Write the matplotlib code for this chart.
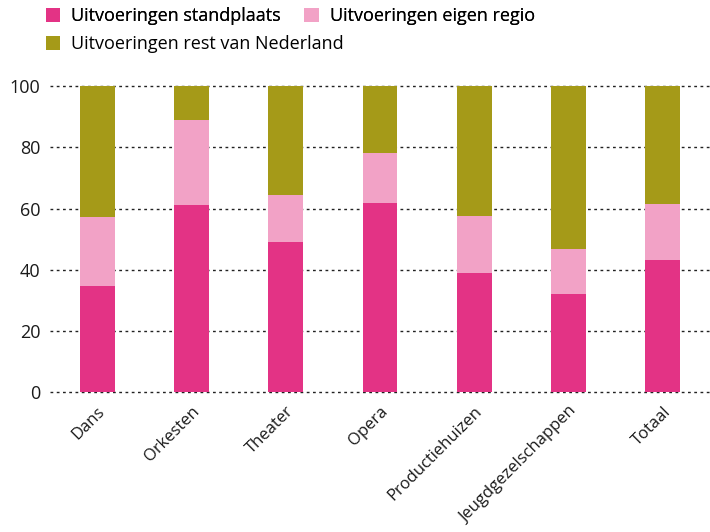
import matplotlib
matplotlib.use("Agg")
import matplotlib.pyplot as plt
import numpy as np
from matplotlib.patches import Patch

plt.rcParams['font.family'] = ['Open Sans', 'DejaVu Sans']

categories = ["Dans", "Orkesten", "Theater", "Opera", "Productiehuizen", "Jeugdgezelschappen", "Totaal"]
standplaats = [34.8, 61.2, 49.1, 61.8, 39.0, 32.1, 43.2]
eigen_regio = [22.4, 27.7, 15.3, 16.3, 18.6, 14.7, 18.2]
rest_nl = [42.8, 11.1, 35.6, 21.9, 42.4, 53.2, 38.6]

series_labels = ["Uitvoeringen standplaats", "Uitvoeringen eigen regio", "Uitvoeringen rest van Nederland"]
colors = ["#E33385", "#F2A2C6", "#A59A18"]

fig = plt.figure(figsize=(7.1, 5.32), dpi=100)
ax = fig.add_axes([50/710, 1-392.3/532, 660/710, (392.3-86)/532])

x = np.arange(len(categories))
w = 0.37
b1 = np.array(standplaats)
b2 = b1 + np.array(eigen_regio)
ax.bar(x, standplaats, w, color=colors[0], zorder=3)
ax.bar(x, eigen_regio, w, bottom=b1, color=colors[1], zorder=3)
ax.bar(x, rest_nl, w, bottom=b2, color=colors[2], zorder=3)

ax.set_xlim(-0.5, 6.5)
ax.set_ylim(0, 100)
ax.set_yticks([0, 20, 40, 60, 80, 100])
for yv in [0, 20, 40, 60, 80, 100]:
    ax.axhline(yv, color="#222222", lw=1.0, ls=(0, (2, 2.5)), zorder=1, clip_on=False)
for s in ax.spines.values():
    s.set_visible(False)
ax.tick_params(axis='y', length=0, labelsize=13, colors="#1a1a1a", pad=7)
ax.set_xticks(x)
ax.set_xticklabels(categories, rotation=45, ha='right', rotation_mode='anchor')
ax.tick_params(axis='x', length=0, labelsize=12, colors="#1a1a1a", pad=8)

handles = [Patch(facecolor=c, edgecolor='none') for c in colors]
common = dict(loc='upper left', frameon=False, fontsize=13, handlelength=0.8, handleheight=0.8,
              handletextpad=0.6, columnspacing=1.3, borderaxespad=0.0, borderpad=0.0)
leg1 = fig.legend(handles[:2], series_labels[:2], bbox_to_anchor=(46/710, 1-7/532), ncol=2, **common)
fig.add_artist(leg1)
leg2 = fig.legend(handles[2:], series_labels[2:], bbox_to_anchor=(46/710, 1-35/532), ncol=1, **common)

fig.savefig("out.png", dpi=100)
